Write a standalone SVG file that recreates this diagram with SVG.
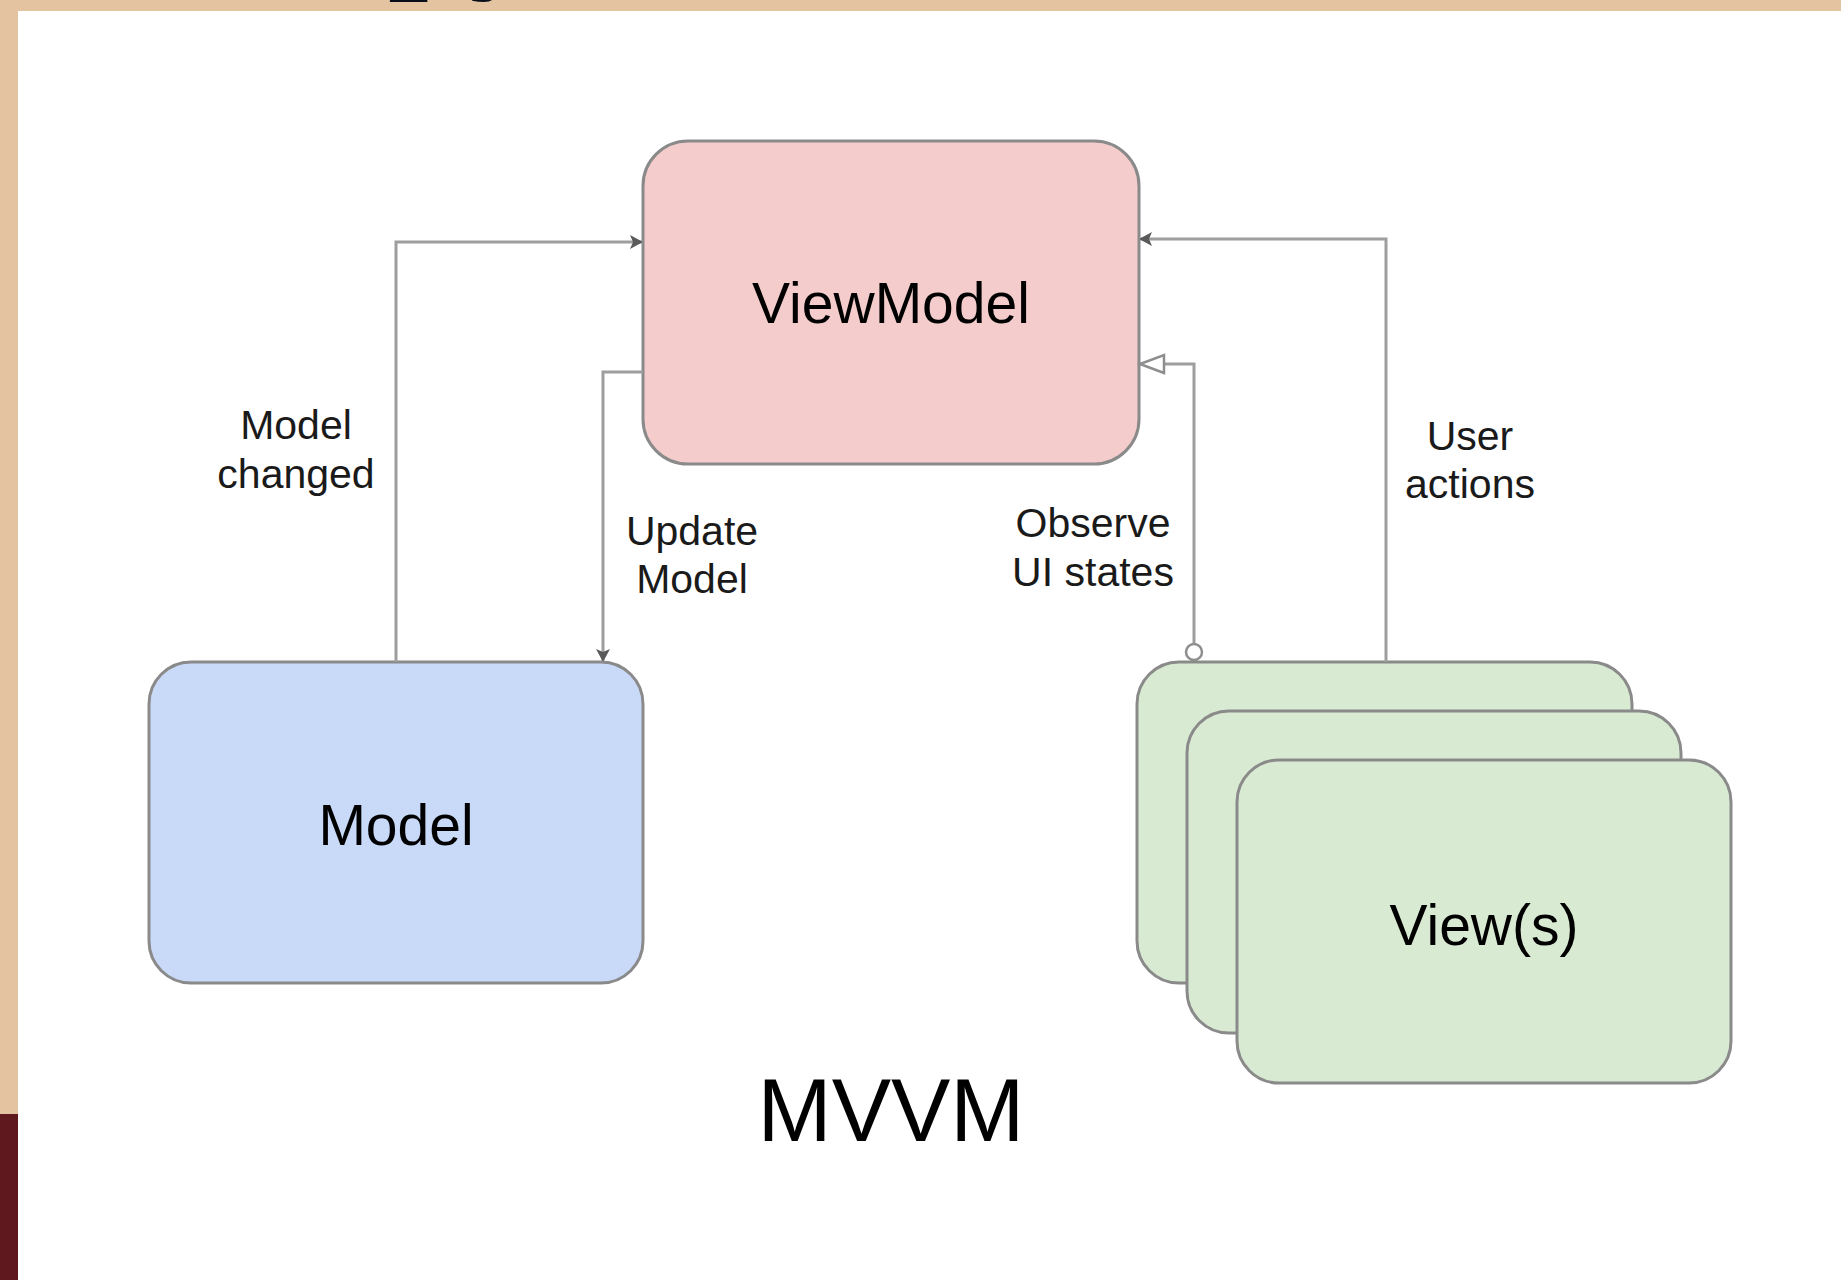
<svg xmlns="http://www.w3.org/2000/svg" width="1841" height="1280" viewBox="0 0 1841 1280">
  <style>
    .node { stroke: #8a8a8a; stroke-width: 3; }
    .vm { fill: #f4cccc; }
    .m { fill: #c9daf8; }
    .v { fill: #d9ead3; }
    .nlabel { font-family: "Liberation Sans", Arial, sans-serif; font-size: 57px; fill: #000; text-anchor: middle; }
    .elabel { font-family: "Liberation Sans", Arial, sans-serif; font-size: 41px; fill: #1a1a1a; text-anchor: middle; }
    .conn { fill: none; stroke: #9e9e9e; stroke-width: 3; }
  </style>
  <defs>
    <marker id="arrow" markerUnits="userSpaceOnUse" markerWidth="16" markerHeight="16" refX="14" refY="8" orient="auto">
      <path d="M1,1 L14,8 L1,15 L4,8 z" fill="#5a5a5a"/>
    </marker>
    <marker id="open" markerUnits="userSpaceOnUse" markerWidth="30" markerHeight="22" refX="27" refY="11" orient="auto">
      <path d="M3,2 L27,11 L3,20 z" fill="#ffffff" stroke="#8e8e8e" stroke-width="2.5"/>
    </marker>
  </defs>

  <rect x="0" y="0" width="1841" height="1280" fill="#ffffff"/>
  <rect x="0" y="0" width="1841" height="11" fill="#e4c3a0"/>
  <rect x="0" y="0" width="18" height="1114" fill="#e4c3a0"/>
  <rect x="0" y="1114" width="18" height="166" fill="#5e181e"/>
  <text x="388" y="-29" font-family="Liberation Serif, serif" font-weight="bold" font-size="145" fill="#0a0e1a">py</text>

  <g id="viewmodel">
    <rect class="node vm" x="643" y="141" width="496" height="323" rx="45" ry="45"/>
    <text class="nlabel" x="891" y="323">ViewModel</text>
  </g>
  <g id="model">
    <rect class="node m" x="149" y="662" width="494" height="321" rx="42" ry="42"/>
    <text class="nlabel" x="396" y="845">Model</text>
  </g>
  <g id="views">
    <rect class="node v" x="1137" y="662" width="495" height="321" rx="42" ry="42"/>
    <rect class="node v" x="1187" y="711" width="494" height="322" rx="42" ry="42"/>
    <rect class="node v" x="1237" y="760" width="494" height="323" rx="42" ry="42"/>
    <text class="nlabel" x="1484" y="945">View(s)</text>
  </g>

  <g id="connectors">
    <path class="conn" d="M396,662 V242 H643" marker-end="url(#arrow)"/>
    <path class="conn" d="M643,372 H603 V662" marker-end="url(#arrow)"/>
    <path class="conn" d="M1194,644 V364 H1140" marker-end="url(#open)"/>
    <circle cx="1194" cy="652" r="8" fill="#ffffff" stroke="#8e8e8e" stroke-width="2.5"/>
    <path class="conn" d="M1386,662 V239 H1139" marker-end="url(#arrow)"/>
  </g>

  <g id="edge-labels">
    <text class="elabel" x="296" y="439">Model</text>
    <text class="elabel" x="296" y="488">changed</text>
    <text class="elabel" x="692" y="545">Update</text>
    <text class="elabel" x="692" y="593">Model</text>
    <text class="elabel" x="1093" y="537">Observe</text>
    <text class="elabel" x="1093" y="586">UI states</text>
    <text class="elabel" x="1470" y="450">User</text>
    <text class="elabel" x="1470" y="498">actions</text>
  </g>

  <text id="title" x="891" y="1141" font-family="Liberation Sans, Arial, sans-serif" font-size="89" fill="#000" text-anchor="middle">MVVM</text>
</svg>
